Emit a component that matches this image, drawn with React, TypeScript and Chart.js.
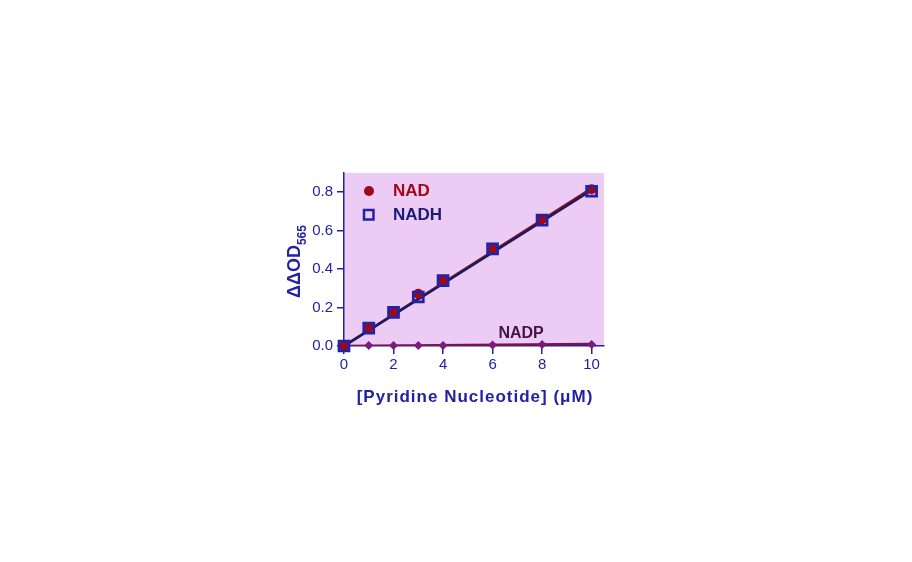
import React, { useEffect, useRef } from "react";
import { Chart, registerables } from "chart.js";
Chart.register(...registerables);

const xValues = [0, 1, 2, 3, 4, 6, 8, 10];
const nadValues = [0, 0.095, 0.175, 0.272, 0.34, 0.505, 0.66, 0.815];
const nadhValues = [0, 0.093, 0.175, 0.255, 0.34, 0.505, 0.655, 0.805];
const nadpValues = [0, 0.002, 0.002, 0.003, 0.003, 0.005, 0.008, 0.008];
const nadFit = [0, 0.82];
const nadhFit = [0, 0.81];
const nadpFit = [0, 0.01];
const fitX = [0, 10];
const xTicks = [0, 2, 4, 6, 8, 10];
const yTicks = [0, 0.2, 0.4, 0.6, 0.8];

const BLUE = "#2222a2";
const RED = "#a00818";
const NAVY = "#1a1a78";
const PURPLE = "#7c1c7c";
const BG = "#eccbf5";
const FONT = "'Liberation Sans', Arial, sans-serif";

const pts = (xs: number[], ys: number[]) => xs.map((x, i) => ({ x, y: ys[i] }));

const decor = {
  id: "decor",
  beforeDraw(chart: any) {
    const { ctx, chartArea: a } = chart;
    ctx.save();
    ctx.fillStyle = BG;
    ctx.fillRect(a.left, a.top, a.right - a.left, a.bottom - a.top);
    ctx.restore();
  },
  afterDraw(chart: any) {
    const { ctx, chartArea: a, scales } = chart;
    ctx.save();
    // legend
    ctx.fillStyle = RED;
    ctx.beginPath();
    ctx.arc(a.left + 25, a.top + 18, 5, 0, Math.PI * 2);
    ctx.fill();
    ctx.strokeStyle = BLUE;
    ctx.lineWidth = 2.5;
    ctx.strokeRect(a.left + 20, a.top + 37, 9.5, 9.5);
    ctx.font = `bold 17px ${FONT}`;
    ctx.textBaseline = "middle";
    ctx.textAlign = "left";
    ctx.fillStyle = RED;
    ctx.fillText("NAD", a.left + 49, a.top + 18);
    ctx.fillStyle = NAVY;
    ctx.fillText("NADH", a.left + 49, a.top + 42);
    // NADP label
    ctx.font = `bold 16px ${FONT}`;
    ctx.fillStyle = "#42124a";
    ctx.textAlign = "center";
    ctx.fillText("NADP", scales.x.getPixelForValue(7.15), scales.y.getPixelForValue(0.063));
    // x title
    ctx.font = `bold 17px ${FONT}`;
    ctx.fillStyle = BLUE;
    const xt = "[Pyridine Nucleotide] (\u03bcM)";
    (ctx as any).letterSpacing = "1px";
    ctx.fillText(xt, (a.left + a.right) / 2 + 1, a.bottom + 51);
    (ctx as any).letterSpacing = "0px";
    // y title
    ctx.translate(a.left - 44, (a.top + a.bottom) / 2 + 2);
    ctx.rotate(-Math.PI / 2);
    ctx.font = `bold 18px ${FONT}`;
    const main = "\u0394\u0394OD";
    const mw = ctx.measureText(main).width;
    ctx.font = `bold 12px ${FONT}`;
    const sw = ctx.measureText("565").width;
    const start = -(mw + sw) / 2;
    ctx.textAlign = "left";
    ctx.textBaseline = "alphabetic";
    ctx.font = `bold 18px ${FONT}`;
    ctx.fillText(main, start, 0);
    ctx.font = `bold 12px ${FONT}`;
    ctx.fillText("565", start + mw, 6);
    ctx.restore();
  },
};

export default function App() {
  const ref = useRef<HTMLCanvasElement>(null);
  useEffect(() => {
    const chart = new Chart(ref.current!, {
      type: "scatter",
      data: {
        datasets: [
          {
            type: "line",
            data: pts(fitX, nadpFit),
            borderColor: "#7a1450",
            borderWidth: 2.5,
            pointRadius: 0,
            order: 6,
          },
          {
            type: "line",
            data: pts(fitX, nadFit),
            borderColor: "#8c1020",
            borderWidth: 2.5,
            pointRadius: 0,
            order: 5,
          },
          {
            type: "line",
            data: pts(fitX, nadhFit),
            borderColor: "#1a1a60",
            borderWidth: 2.5,
            pointRadius: 0,
            order: 4,
          },
          {
            data: pts(xValues, nadpValues),
            pointStyle: "rectRot",
            pointRadius: 4.5,
            backgroundColor: PURPLE,
            borderColor: PURPLE,
            borderWidth: 0,
            order: 3,
            clip: false,
          },
          {
            data: pts(xValues, nadValues),
            pointStyle: "circle",
            pointRadius: 5,
            backgroundColor: RED,
            borderColor: RED,
            borderWidth: 0,
            order: 2,
            clip: false,
          },
          {
            data: pts(xValues, nadhValues),
            pointStyle: "rect",
            pointRadius: 7,
            backgroundColor: "rgba(0,0,0,0)",
            borderColor: BLUE,
            borderWidth: 2.8,
            order: 1,
            clip: false,
          },
        ],
      } as any,
      options: {
        animation: false,
        responsive: false,
        layout: { padding: { left: 304, top: 173, right: 308, bottom: 186 } },
        plugins: { legend: { display: false }, tooltip: { enabled: false } },
        scales: {
          x: {
            type: "linear",
            min: 0,
            max: 10.5,
            afterBuildTicks: (s: any) => { s.ticks = xTicks.map((v) => ({ value: v })); },
            afterFit: (s: any) => { s.height = 30; },
            border: { color: BLUE, width: 1.5 },
            grid: { drawOnChartArea: false, color: BLUE, tickLength: 8, lineWidth: 1.5 },
            ticks: { color: BLUE, font: { size: 15, family: FONT }, padding: 2 },
          },
          y: {
            type: "linear",
            min: 0,
            max: 0.9,
            afterBuildTicks: (s: any) => { s.ticks = yTicks.map((v) => ({ value: v })); },
            afterFit: (s: any) => { s.width = 40; },
            border: { color: BLUE, width: 1.5 },
            grid: { drawOnChartArea: false, color: BLUE, tickLength: 7, lineWidth: 1.5 },
            ticks: {
              color: BLUE,
              font: { size: 15, family: FONT },
              padding: 4,
              callback: (v: any) => Number(v).toFixed(1),
            },
          },
        },
      },
      plugins: [decor],
    });
    return () => chart.destroy();
  }, []);
  return (
    <div style={{ position: "fixed", left: 0, top: 0, width: 912, height: 562, background: "#fff" }}>
      <canvas ref={ref} width={912} height={562} />
    </div>
  );
}
